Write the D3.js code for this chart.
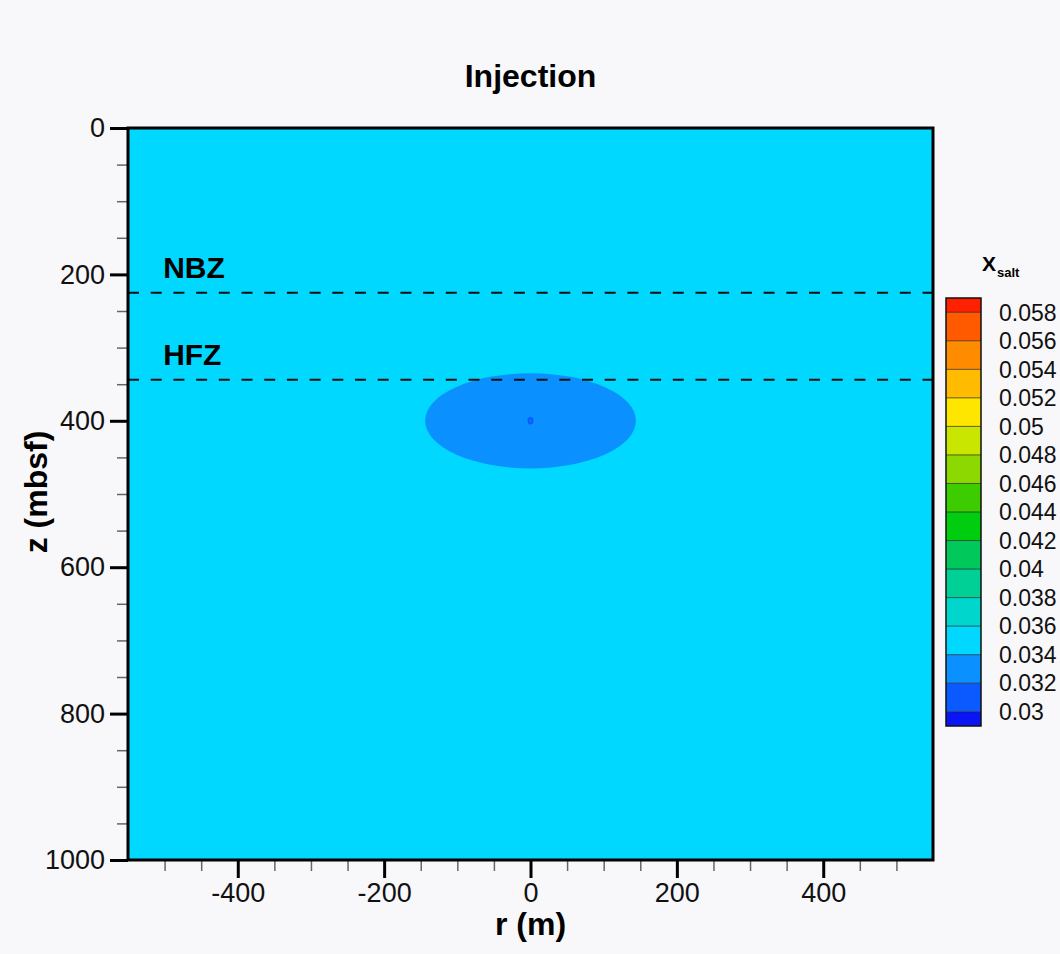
<!DOCTYPE html>
<html>
<head>
<meta charset="utf-8">
<script src="https://cdn.jsdelivr.net/npm/d3@7"></script>
<style>
  body { margin: 0; background: #f8f7fa; }
  text { font-family: "Liberation Sans", Arial, sans-serif; }
</style>
</head>
<body>
<svg id="chart"></svg>
<script>
// axis extents and ticks
const rDomain = [-550, 550];
const zDomain = [0, 1000];
const rMajorTicks = [-400, -200, 0, 200, 400];
const rMinorTicks = [-500, -450, -350, -300, -250, -150, -100, -50, 50, 100, 150, 250, 300, 350, 450, 500];
const zMajorTicks = [0, 200, 400, 600, 800, 1000];
const zMinorTicks = [50, 100, 150, 250, 300, 350, 450, 500, 550, 650, 700, 750, 850, 900, 950];

// contour levels of x_salt and their flood colours (one more colour than levels)
const saltLevels = [0.03, 0.032, 0.034, 0.036, 0.038, 0.04, 0.042, 0.044, 0.046, 0.048, 0.05, 0.052, 0.054, 0.056, 0.058];
const levelColors = ["#0a14f5", "#0a5aff", "#0a90ff", "#00d8ff", "#00d6cc", "#00d095", "#00c85a", "#00cc10",
  "#3ccc00", "#8cd800", "#c8e600", "#ffe600", "#ffbb00", "#ff8c00", "#ff5a00", "#ff2000"];
const colorbarRange = [0.029, 0.059];

// zone boundaries (depth, mbsf)
const zoneNames = ["NBZ", "HFZ"];
const zoneDepths = [225, 344];

// salt field: background, injected plume and well point
const backgroundSalt = 0.035;
const plumeCenter = [0, 400];
const plumeHalfSize = [144, 65];
const plumeSalt = 0.033;
const wellHalfSize = [3, 4];
const wellSalt = 0.031;

const width = 1060, height = 954;
const margin = { top: 128, bottom: 94, left: 128, right: 127 };

const svg = d3.select("#chart").attr("width", width).attr("height", height);

const x = d3.scaleLinear().domain(rDomain).range([margin.left, width - margin.right]);
const y = d3.scaleLinear().domain(zDomain).range([margin.top, height - margin.bottom]);
const color = d3.scaleThreshold().domain(saltLevels).range(levelColors);

svg.append("clipPath").attr("id", "plot-clip")
  .append("rect")
  .attr("x", x(rDomain[0])).attr("y", y(zDomain[0]))
  .attr("width", x(rDomain[1]) - x(rDomain[0]))
  .attr("height", y(zDomain[1]) - y(zDomain[0]));

const plot = svg.append("g").attr("clip-path", "url(#plot-clip)");

// background flood
plot.append("rect")
  .attr("x", x(rDomain[0])).attr("y", y(zDomain[0]))
  .attr("width", x(rDomain[1]) - x(rDomain[0]))
  .attr("height", y(zDomain[1]) - y(zDomain[0]))
  .attr("fill", color(backgroundSalt));

// plume
plot.append("ellipse")
  .attr("cx", x(plumeCenter[0])).attr("cy", y(plumeCenter[1]))
  .attr("rx", x(plumeCenter[0] + plumeHalfSize[0]) - x(plumeCenter[0]))
  .attr("ry", y(plumeCenter[1] + plumeHalfSize[1]) - y(plumeCenter[1]))
  .attr("fill", color(plumeSalt));

// well
plot.append("ellipse")
  .attr("cx", x(plumeCenter[0])).attr("cy", y(plumeCenter[1]))
  .attr("rx", x(plumeCenter[0] + wellHalfSize[0]) - x(plumeCenter[0]))
  .attr("ry", y(plumeCenter[1] + wellHalfSize[1]) - y(plumeCenter[1]))
  .attr("fill", color(wellSalt))
  .attr("fill-opacity", 0.6)
  .attr("stroke", color(wellSalt))
  .attr("stroke-width", 1.5);

// zone boundaries
plot.selectAll(".zone-line")
  .data(zoneDepths)
  .join("line")
  .attr("class", "zone-line")
  .attr("x1", x(rDomain[0])).attr("x2", x(rDomain[1]))
  .attr("y1", d => y(d)).attr("y2", d => y(d))
  .attr("stroke", "#111")
  .attr("stroke-width", 2)
  .attr("stroke-dasharray", "11,11.7");

svg.selectAll(".zone-label")
  .data(zoneNames)
  .join("text")
  .attr("class", "zone-label")
  .attr("x", x(-502))
  .attr("y", (d, i) => y(zoneDepths[i]) - 15)
  .attr("font-size", 30)
  .attr("font-weight", "bold")
  .attr("fill", "#000")
  .text(d => d);

// axes
const fmt = d => String(d);

const bottom = svg.append("g").attr("transform", `translate(0,${y(zDomain[1])})`);
bottom.append("g")
  .call(d3.axisBottom(x).tickValues(rMinorTicks).tickSize(11).tickFormat(""))
  .call(g => g.select(".domain").remove())
  .call(g => g.selectAll("line").attr("stroke", "#666").attr("stroke-width", 1.5));
bottom.append("g")
  .call(d3.axisBottom(x).tickValues(rMajorTicks).tickSize(18).tickPadding(5).tickSizeOuter(0).tickFormat(fmt))
  .call(g => g.select(".domain").remove())
  .call(g => g.selectAll("line").attr("stroke", "#000").attr("stroke-width", 3))
  .call(g => g.selectAll("text").attr("font-size", 27).attr("fill", "#111")
    .attr("font-family", "'Liberation Sans', Arial, sans-serif"));

const left = svg.append("g").attr("transform", `translate(${x(rDomain[0])},0)`);
left.append("g")
  .call(d3.axisLeft(y).tickValues(zMinorTicks).tickSize(11).tickFormat(""))
  .call(g => g.select(".domain").remove())
  .call(g => g.selectAll("line").attr("stroke", "#666").attr("stroke-width", 1.5));
left.append("g")
  .call(d3.axisLeft(y).tickValues(zMajorTicks).tickSize(18).tickPadding(5).tickSizeOuter(0).tickFormat(fmt))
  .call(g => g.select(".domain").remove())
  .call(g => g.selectAll("line").attr("stroke", "#000").attr("stroke-width", 3))
  .call(g => g.selectAll("text").attr("font-size", 27).attr("fill", "#111")
    .attr("font-family", "'Liberation Sans', Arial, sans-serif"));

// frame
svg.append("rect")
  .attr("x", x(rDomain[0])).attr("y", y(zDomain[0]))
  .attr("width", x(rDomain[1]) - x(rDomain[0]))
  .attr("height", y(zDomain[1]) - y(zDomain[0]))
  .attr("fill", "none")
  .attr("stroke", "#000")
  .attr("stroke-width", 3);

// titles
svg.append("text")
  .attr("x", x(0)).attr("y", 87)
  .attr("text-anchor", "middle")
  .attr("font-size", 32).attr("font-weight", "bold")
  .text("Injection");

svg.append("text")
  .attr("x", x(0)).attr("y", 935)
  .attr("text-anchor", "middle")
  .attr("font-size", 32).attr("font-weight", "bold")
  .text("r (m)");

svg.append("text")
  .attr("transform", `translate(47,${y(500) - 2}) rotate(-90)`)
  .attr("text-anchor", "middle")
  .attr("font-size", 32).attr("font-weight", "bold")
  .text("z (mbsf)");

// colour bar
const cb = d3.scaleLinear().domain(colorbarRange).range([726, 298]);
const cbX = 946, cbW = 35;
const bounds = [colorbarRange[0], ...saltLevels, colorbarRange[1]];
const bands = levelColors.map((c, i) => ({ lo: bounds[i], hi: bounds[i + 1], c }));

const bar = svg.append("g");
bar.selectAll("rect.band")
  .data(bands)
  .join("rect")
  .attr("class", "band")
  .attr("x", cbX).attr("width", cbW)
  .attr("y", d => cb(d.hi))
  .attr("height", d => cb(d.lo) - cb(d.hi))
  .attr("fill", d => d.c);
bar.selectAll("line.sep")
  .data(saltLevels)
  .join("line")
  .attr("class", "sep")
  .attr("x1", cbX).attr("x2", cbX + cbW)
  .attr("y1", d => cb(d)).attr("y2", d => cb(d))
  .attr("stroke", "#222").attr("stroke-opacity", 0.7).attr("stroke-width", 1);
bar.append("rect")
  .attr("x", cbX).attr("y", cb(colorbarRange[1]))
  .attr("width", cbW).attr("height", cb(colorbarRange[0]) - cb(colorbarRange[1]))
  .attr("fill", "none").attr("stroke", "#111").attr("stroke-width", 1.5);
bar.selectAll("text.lab")
  .data(saltLevels)
  .join("text")
  .attr("class", "lab")
  .attr("x", 999)
  .attr("y", d => cb(d))
  .attr("dy", "0.36em")
  .attr("font-size", 23)
  .attr("fill", "#111")
  .text(d => String(+d.toFixed(3)));

const cbTitle = svg.append("text").attr("x", 982).attr("y", 271).attr("font-weight", "bold");
cbTitle.append("tspan").attr("font-size", 21).text("X");
cbTitle.append("tspan").attr("font-size", 13).attr("dy", 6).attr("dx", 1).text("salt");
</script>
</body>
</html>
